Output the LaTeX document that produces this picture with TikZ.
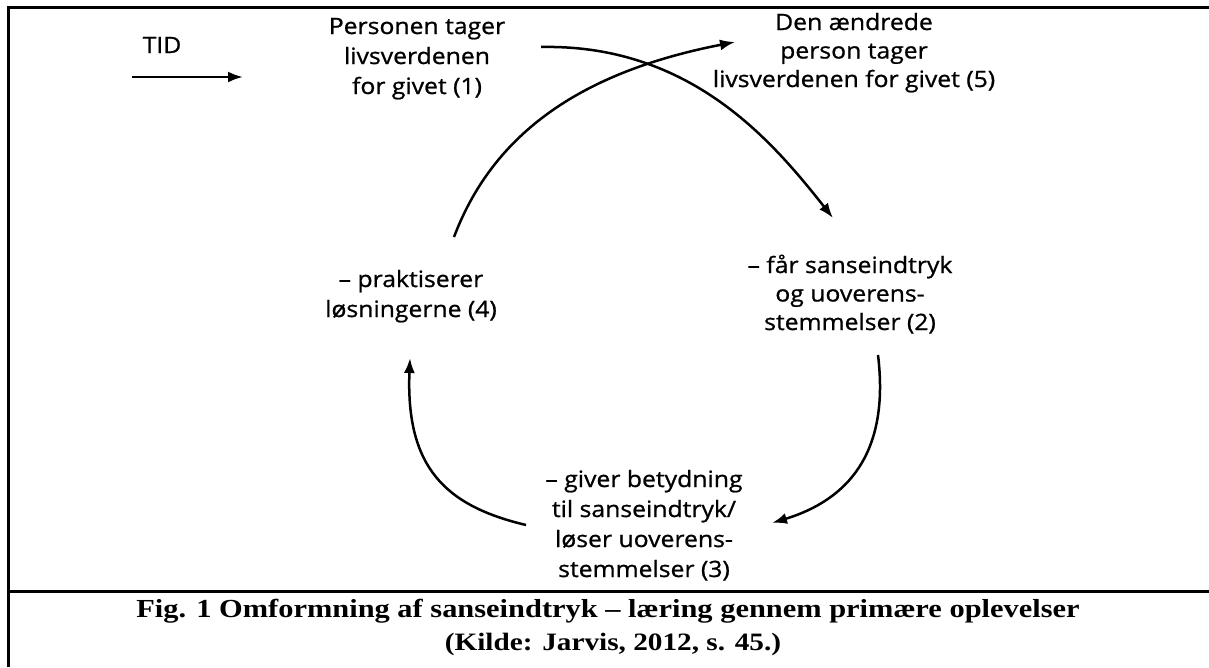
\documentclass[tikz,border=0pt]{standalone}
\usepackage{fontspec}
\setmainfont{Liberation Serif}
\newfontfamily\diafont[FakeStretch=1.1,FakeBold=0.9]{Open Sans}
\newfontfamily\capfont[FakeStretch=1.17]{Liberation Serif}
\usetikzlibrary{arrows.meta}
\begin{document}
\begin{tikzpicture}[x=1pt,y=-1pt,
  lbl/.style={font=\diafont\fontsize{22.5}{30}\selectfont, align=center, inner sep=0pt, anchor=base},
  tight/.style={font=\diafont\fontsize{22.5}{28.5}\selectfont},
  captxt/.style={font=\capfont\bfseries\fontsize{26}{33}\selectfont, inner sep=0pt, anchor=base},
  capsmall/.style={font=\capfont\bfseries\fontsize{25}{33}\selectfont},
  arr/.style={line width=2.5pt, -{Latex[length=15pt,width=11pt]}},
  frame/.style={line width=2.2pt}]
\useasboundingbox (0,0) rectangle (1209,667);
\draw[frame] (8.5,667) -- (8.5,7.5) -- (1209,7.5);
\draw[frame] (8.5,591.5) -- (1209,591.5);
% nodes
\node[lbl] (tid) at (162,53) {TID};
\node[lbl] (n1) at (417,94) {Personen tager\\livsverdenen\\for givet (1)};
\node[lbl,tight] (n5) at (854,87) {Den ændrede\\person tager\\livsverdenen for givet (5)};
\node[lbl,tight] (n2) at (850,330) {– får sanseindtryk\\og uoverens-\\stemmelser (2)};
\node[lbl] (n3) at (644,577) {– giver betydning\\til sanseindtryk/\\løser uoverens-\\stemmelser (3)};
\node[lbl] (n4) at (411,317) {– praktiserer\\løsningerne (4)};
% connector ends
\coordinate (ts) at (132,77);
\coordinate (te) at (243,77);
\coordinate (a1s) at (541,47);
\coordinate (a1e) at (833,218);
\coordinate (a2s) at (878,355);
\coordinate (a2e) at (772,523);
\coordinate (a3s) at (526,525);
\coordinate (a3e) at (410,358);
\coordinate (a4s) at (454,237);
\coordinate (a4e) at (735,42);
% connectors
\draw[arr] (ts) -- (te);
\draw[arr] (a1s) .. controls (691,44) and (773,142) .. (a1e);
\draw[arr] (a2s) .. controls (890,454) and (847,500) .. (a2e);
\draw[arr] (a3s) .. controls (446,506) and (405.6,468) .. (a3e);
\draw[arr] (a4s) .. controls (496,126) and (591.5,70) .. (a4e);
% caption
\node[captxt] (c1) at (608,617) {Fig. 1 Omformning af sanseindtryk – læring gennem primære oplevelser};
\node[captxt,capsmall] (c2) at (613,650) {(Kilde: Jarvis, 2012, s. 45.)};
\end{tikzpicture}
\end{document}
